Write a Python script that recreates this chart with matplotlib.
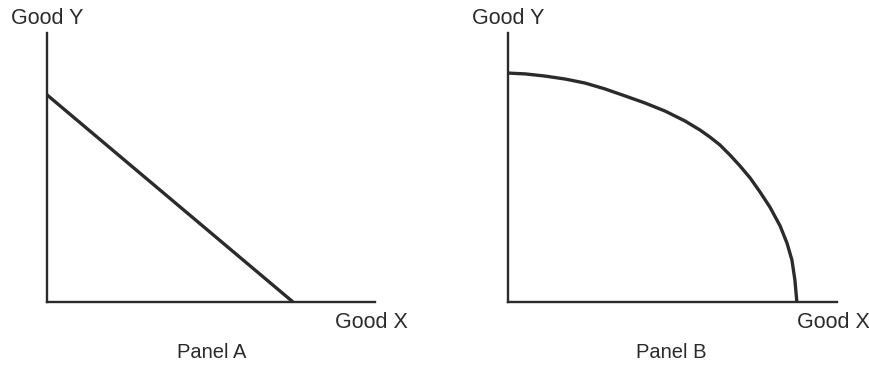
import matplotlib
matplotlib.use("Agg")
import matplotlib.pyplot as plt

plt.rcParams['font.family'] = ['Liberation Sans', 'DejaVu Sans']

# Panel A: straight-line PPF (axis units 0-10)
line_x = [0.0, 7.5]
line_y = [7.7, 0.0]

# Panel B: bowed-out PPF
curve_x = [0.00, 0.52, 1.12, 1.73, 2.34, 2.95, 3.56, 4.16, 4.77, 5.38, 5.84, 6.14,
           6.44, 6.75, 7.05, 7.36, 7.66, 7.96, 8.27, 8.48, 8.63, 8.72, 8.78]
curve_y = [8.51, 8.48, 8.40, 8.29, 8.14, 7.92, 7.66, 7.40, 7.10, 6.73, 6.39, 6.13,
           5.84, 5.46, 5.06, 4.61, 4.09, 3.53, 2.83, 2.19, 1.56, 0.82, 0.00]

panels = [
    ("Panel A", line_x, line_y),
    ("Panel B", curve_x, curve_y),
]

W, H = 870, 366
fig = plt.figure(figsize=(W / 100, H / 100), dpi=100)

# axes boxes in pixels: left, right, top, bottom
boxes = [(47, 375, 33, 302), (508, 837, 33, 302)]
title_x = [212, 671]
ink = '#2b2b2b'

for (name, xs, ys), (l, r, t, b), tx in zip(panels, boxes, title_x):
    ax = fig.add_axes([l / W, 1 - b / H, (r - l) / W, (b - t) / H])
    ax.set_xlim(0, 10)
    ax.set_ylim(0, 10)
    ax.plot(xs, ys, color=ink, linewidth=2.4, solid_capstyle='butt',
            solid_joinstyle='round', clip_on=False)
    for side in ('top', 'right'):
        ax.spines[side].set_visible(False)
    for side in ('left', 'bottom'):
        ax.spines[side].set_color(ink)
        ax.spines[side].set_linewidth(1.7)
    ax.set_xticks([])
    ax.set_yticks([])
    ax.patch.set_alpha(0)

    # axis titles
    fig.text((l - 36) / W, 1 - 18 / H, "Good Y", fontsize=15.5, color=ink,
             ha='left', va='center')
    fig.text((r - 40) / W, 1 - 322 / H, "Good X", fontsize=15.5, color=ink,
             ha='left', va='center')
    fig.text(tx / W, 1 - 352 / H, name, fontsize=14.5, color=ink,
             ha='center', va='center')

fig.savefig("out.png", dpi=100)
